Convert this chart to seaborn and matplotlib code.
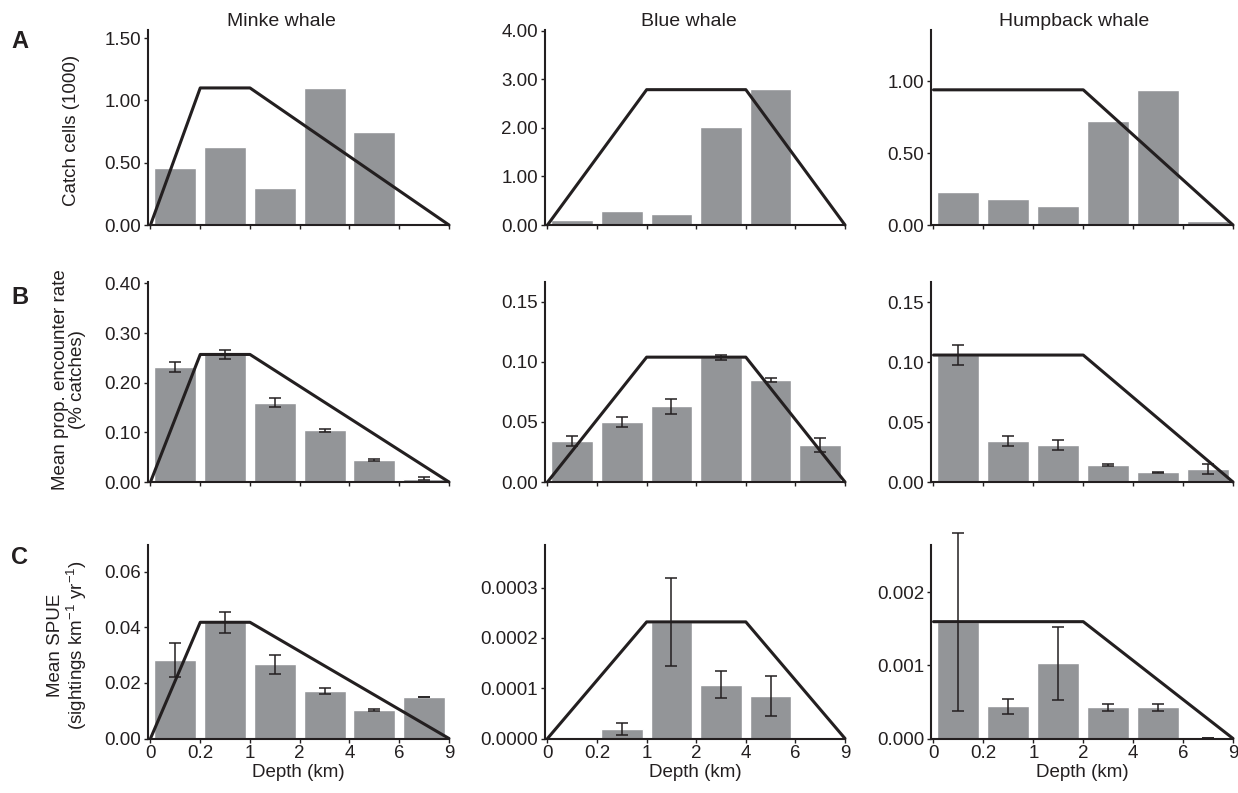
import numpy as np
import pandas as pd
import matplotlib
matplotlib.use("Agg")
import matplotlib.pyplot as plt
import seaborn as sns

# depth bins (km) -- bars sit between the edge ticks
depth_edges = ["0", "0.2", "1", "2", "4", "6", "9"]
depth_bins = ["0-0.2", "0.2-1", "1-2", "2-4", "4-6", "6-9"]
species = ["Minke whale", "Blue whale", "Humpback whale"]

# row A: catch cells (1000)
minke_catch = [0.46, 0.63, 0.30, 1.10, 0.75, 0.01]
blue_catch = [0.11, 0.28, 0.23, 2.03, 2.80, 0.05]
humpback_catch = [0.23, 0.18, 0.13, 0.72, 0.94, 0.03]

# row B: mean proportional encounter rate (% catches) +/- error
minke_enc = [0.232, 0.257, 0.160, 0.104, 0.044, 0.007]
minke_enc_err = [0.010, 0.009, 0.009, 0.003, 0.002, 0.003]
blue_enc = [0.034, 0.050, 0.063, 0.104, 0.085, 0.031]
blue_enc_err = [0.004, 0.004, 0.006, 0.002, 0.002, 0.006]
humpback_enc = [0.106, 0.034, 0.031, 0.014, 0.008, 0.011]
humpback_enc_err = [0.008, 0.004, 0.004, 0.001, 0.0004, 0.004]

# row C: mean SPUE +/- error
minke_spue = [0.0282, 0.0418, 0.0267, 0.0170, 0.0102, 0.0149]
minke_spue_err = [0.0060, 0.0038, 0.0034, 0.0010, 0.0004, 0.0001]
blue_spue = [0.0, 0.0000187, 0.000232, 0.000107, 0.0000847, 0.0]
blue_spue_err = [0.0, 0.000012, 0.0000875, 0.0000267, 0.00004, 0.0]
humpback_spue = [0.00159, 0.000442, 0.00103, 0.000429, 0.000429, 0.000005]
humpback_spue_err = [0.00122, 0.0001, 0.0005, 0.00005, 0.00005, 0.0]

# trapezoid envelopes: (edge index, value)
minke_env_x = [0, 1, 2, 6]
blue_env_x = [0, 2, 4, 6]
humpback_env_x = [0, 3, 6]
catch_peaks = [1.10, 2.79, 0.94]
enc_peaks = [0.257, 0.104, 0.106]
spue_peaks = [0.0418, 0.000232, 0.0016]

sns.set_style("ticks")
plt.rcParams['font.family'] = ['Liberation Sans', 'DejaVu Sans']
plt.rcParams['mathtext.fontset'] = 'custom'
plt.rcParams['mathtext.rm'] = 'Liberation Sans'
plt.rcParams['mathtext.it'] = 'Liberation Sans:italic'

INK = "#231f20"
BAR = "#939598"

values = [
    [minke_catch, blue_catch, humpback_catch],
    [minke_enc, blue_enc, humpback_enc],
    [minke_spue, blue_spue, humpback_spue],
]
errors = [
    [None, None, None],
    [minke_enc_err, blue_enc_err, humpback_enc_err],
    [minke_spue_err, blue_spue_err, humpback_spue_err],
]
peaks = [catch_peaks, enc_peaks, spue_peaks]
env_x = [minke_env_x, blue_env_x, humpback_env_x]

ylims = [[1.565, 4.02, 1.356], [0.403, 0.1666, 0.167], [0.0696, 0.000385, 0.00265]]
yticks = [
    [np.arange(0, 1.51, 0.5), np.arange(0, 4.01, 1.0), np.arange(0, 1.01, 0.5)],
    [np.arange(0, 0.41, 0.1), np.arange(0, 0.151, 0.05), np.arange(0, 0.151, 0.05)],
    [np.arange(0, 0.061, 0.02), np.arange(0, 0.00031, 0.0001), np.arange(0, 0.0021, 0.001)],
]
yfmt = [["%.2f"] * 3, ["%.2f"] * 3, ["%.2f", "%.4f", "%.3f"]]

W, H = 1238, 793
fig = plt.figure(figsize=(W / 100, H / 100), dpi=100)

col_lr = [(148, 449), (545, 845), (931, 1233)]
row_tb = [(30, 225), (282, 482), (545, 738.5)]

for r in range(3):
    for c in range(3):
        l, rr = col_lr[c]
        t, b = row_tb[r]
        ax = fig.add_axes([l / W, 1 - b / H, (rr - l) / W, (b - t) / H])
        df = pd.DataFrame({"bin": depth_bins, "val": values[r][c]})
        sns.barplot(data=df, x="bin", y="val", color=BAR, saturation=1,
                    width=0.84, ax=ax, errorbar=None)
        if errors[r][c] is not None:
            ax.errorbar(np.arange(6), values[r][c], yerr=errors[r][c], fmt="none",
                        ecolor=INK, elinewidth=1.1, capsize=4, capthick=1.1,
                        clip_on=False, zorder=4)
        ex = env_x[c]
        pk = peaks[r][c]
        if c == 2:
            ey = [pk, pk, 0]
        else:
            ey = [0, pk, pk, 0]
        ax.plot(np.array(ex) - 0.5, ey, color=INK, lw=2.2, zorder=5, clip_on=False)

        ax.set_xlim(-0.55, 5.5)
        ax.set_ylim(0, ylims[r][c])
        ax.set_xticks(np.arange(7) - 0.5)
        if r == 2:
            ax.set_xticklabels(depth_edges)
            ax.set_xlabel("Depth (km)", fontsize=13.5, color=INK, labelpad=1)
        else:
            ax.set_xticklabels([])
            ax.set_xlabel("")
        ax.set_yticks(yticks[r][c])
        ax.set_yticklabels([yfmt[r][c] % v for v in yticks[r][c]])
        ax.set_ylabel("")
        sns.despine(ax=ax)
        for s in ["left", "bottom"]:
            ax.spines[s].set_color(INK)
            ax.spines[s].set_linewidth(1.5)
        ax.tick_params(axis="both", direction="out", length=3, width=1,
                       colors=INK, labelsize=13.5, pad=2)

# column titles
for x, name in zip([281, 689, 1074], species):
    fig.text(x / W, 1 - 22 / H, name, ha="center", va="center", fontsize=14, color=INK)

# panel letters
for y, letter in zip([42, 297, 557], ["A", "B", "C"]):
    fig.text(20 / W, 1 - y / H, letter, ha="center", va="center", fontsize=17,
             fontweight="bold", color=INK)

# row y labels
fig.text(72 / W, 1 - 130 / H, "Catch cells (1000)", rotation=90, ha="center",
         va="center", fontsize=13.5, color=INK)
fig.text(69 / W, 1 - 380 / H, "Mean prop. encounter rate\n(% catches)", rotation=90,
         ha="center", va="center", fontsize=13.5, color=INK, linespacing=1.0,
         multialignment="center")
fig.text(68 / W, 1 - 645 / H, "Mean SPUE\n(sightings km$^{-1}$ yr$^{-1}$)", rotation=90,
         ha="center", va="center", fontsize=13.5, color=INK, linespacing=1.0,
         multialignment="center")

fig.savefig("out.png", dpi=100)
